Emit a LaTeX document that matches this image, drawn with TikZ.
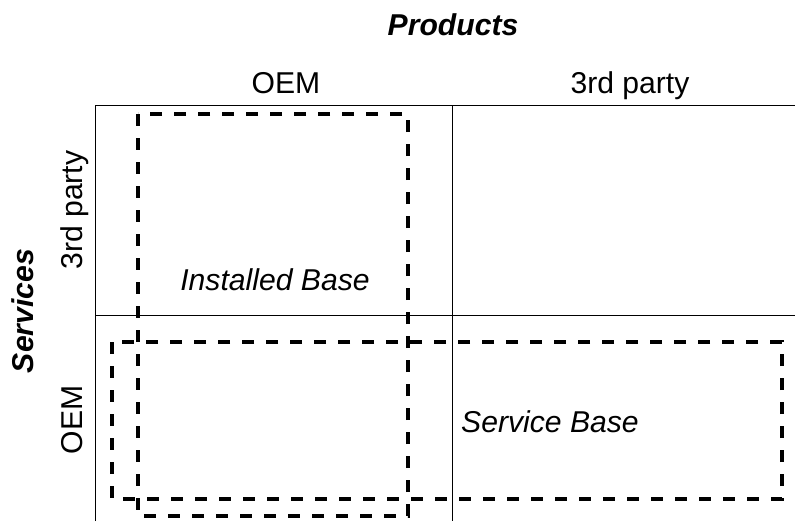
\documentclass[tikz,border=0pt]{standalone}
\usepackage{fontspec}
\setmainfont{Liberation Sans}
\usetikzlibrary{positioning}

\begin{document}
\begin{tikzpicture}[x=0.75pt, y=-0.75pt,
    grid/.style={line width=0.75pt},
    basebox/.style={line width=2.6pt, dash pattern=on 9pt off 9pt},
    lbl/.style={anchor=base, inner sep=0pt, font=\fontsize{22.6}{27}\selectfont},
    head/.style={lbl, font=\fontsize{22.6}{27}\selectfont\bfseries\itshape},
    area/.style={lbl, font=\fontsize{22.6}{27}\selectfont\itshape}]
    \useasboundingbox (0,0) rectangle (795,521);
    % matrix lines
    \draw[grid] (95,521) -- (95,105) -- (795,105);
    \draw[grid] (452,105) -- (452,521);
    \draw[grid] (95,315) -- (795,315);
    % headings
    \node[head] (prod) at (453,35) {Products};
    \node[head, rotate=90] (serv) at (33,311) {Services};
    \node[lbl] (pOEM) at (286,93) {OEM};
    \node[lbl] (pThird) at (630,93) {3rd party};
    \node[lbl, rotate=90] (sThird) at (82,210) {3rd party};
    \node[lbl, rotate=90] (sOEM) at (82,420) {OEM};
    % the two bases
    \draw[basebox] (138,114) rectangle (408,516);
    \draw[basebox] (112,342) rectangle (782,499);
    \node[area] (inst) at (275,290) {Installed Base};
    \node[area] (srv) at (550,432) {Service Base};
\end{tikzpicture}
\end{document}
